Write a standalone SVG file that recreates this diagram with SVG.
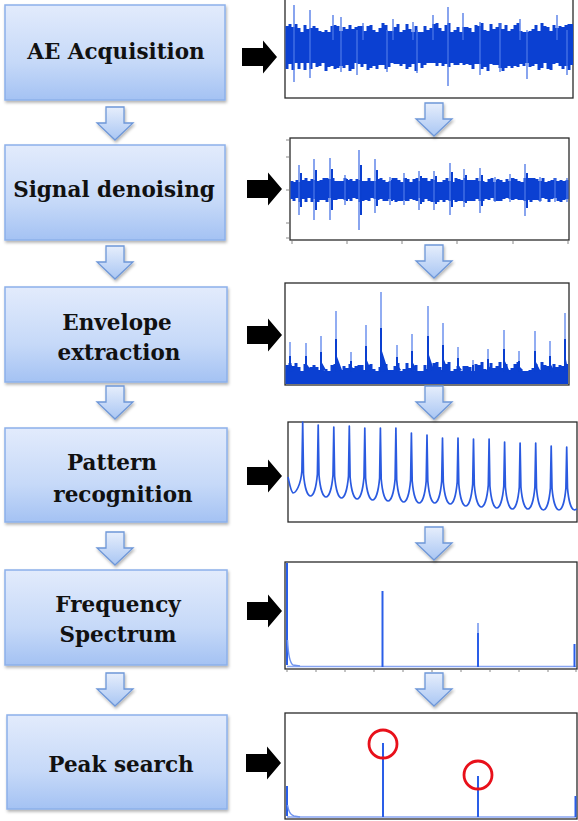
<svg xmlns="http://www.w3.org/2000/svg" width="578" height="821" viewBox="0 0 578 821">
<defs>
<linearGradient id="gBox" x1="0" y1="0" x2="0" y2="1">
<stop offset="0" stop-color="#e2ebfc"/>
<stop offset="0.6" stop-color="#c6d9f8"/>
<stop offset="1" stop-color="#a4c2f3"/>
</linearGradient>
<linearGradient id="gArr" x1="0" y1="0" x2="0" y2="1">
<stop offset="0" stop-color="#e6eefc"/>
<stop offset="1" stop-color="#a9c6f3"/>
</linearGradient>
<filter id="sh" x="-10%" y="-10%" width="120%" height="130%">
<feDropShadow dx="1" dy="2" stdDeviation="1.5" flood-color="#000" flood-opacity="0.3"/>
</filter>
<path id="dArr" d="M-9 0H9V16H18L0 33L-18 16H-9Z"/>
<path id="bArr" d="M0 -9H21V-16.5L35 0L21 16.5V9H0Z"/>
</defs>
<style>
.box{fill:url(#gBox);stroke:#8cb0ea;stroke-width:1.5;filter:url(#sh)}
.t{font-family:"DejaVu Serif","Liberation Serif",serif;font-weight:bold;font-size:21.5px;fill:#111;text-anchor:middle}
.plot{fill:#fff;stroke:#2a2a2a;stroke-width:1.3}
.core{fill:#0b40d2}
.fr{stroke:#0b40d2;stroke-width:3;fill:none}
.sp{stroke:#4a75e6;stroke-width:1.3;fill:none}
.dk{stroke:#0a3fd0;stroke-width:2;fill:none}
.lt{stroke:#6f93ee;stroke-width:1.5;fill:none}
.pk{stroke:#2a5ee8;stroke-width:2;fill:none}
.base{stroke:#88a5f2;stroke-width:1.6;fill:none}
.tick{stroke:#888;stroke-width:1;fill:none}
.da{fill:url(#gArr);stroke:#6e97d8;stroke-width:1.3;filter:url(#sh)}
.ba{fill:#000}
.ring{fill:none;stroke:#e8101a;stroke-width:2.8}
</style>
<rect width="578" height="821" fill="#fff"/>

<g id="node-ae-acquisition">
<rect class="box" x="5" y="5" width="220" height="95"/>
<text class="t" x="116" y="59">AE Acquisition</text>
</g>
<g id="node-signal-denoising">
<rect class="box" x="5" y="145" width="220" height="95"/>
<text class="t" x="114" y="197">Signal denoising</text>
</g>
<g id="node-envelope-extraction">
<rect class="box" x="5" y="287" width="222" height="95"/>
<text class="t" x="117" y="330">Envelope</text>
<text class="t" x="119" y="360">extraction</text>
</g>
<g id="node-pattern-recognition">
<rect class="box" x="5" y="428" width="222" height="94"/>
<text class="t" x="112" y="470">Pattern</text>
<text class="t" x="123" y="502">recognition</text>
</g>
<g id="node-frequency-spectrum">
<rect class="box" x="5" y="570" width="222" height="95"/>
<text class="t" x="118" y="612">Frequency</text>
<text class="t" x="118" y="642">Spectrum</text>
</g>
<g id="node-peak-search">
<rect class="box" x="7" y="715" width="220" height="94"/>
<text class="t" x="121" y="772">Peak search</text>
</g>

<g id="plot-raw">
<rect class="plot" x="285" y="-2" width="288" height="100"/>
<rect class="core" x="286" y="33" width="286" height="30"/>
<path class="fr" d="M287 26V69M290 24V64M293 27V70M296 24V63M299 28V69M302 32V63M305 25V70M308 29V63M311 28V69M314 26V63M317 28V67M320 31V66M323 32V62M326 30V71M329 32V67M332 26V66M335 25V69M338 26V68M341 31V66M344 27V68M347 29V65M350 25V71M353 29V69M356 27V63M359 26V64M362 26V67M365 31V64M368 26V70M371 25V68M374 30V66M377 32V69M380 28V65M383 23V65M386 25V69M389 31V67M392 31V62M395 27V64M398 24V64M401 32V66M404 30V64M407 24V69M410 29V67M413 32V64M416 26V71M419 32V62M422 32V68M425 26V65M428 30V62M431 28V62M434 24V62M437 23V66M440 28V62M443 31V66M446 25V64M449 23V67M452 32V62M455 30V65M458 27V65M461 32V62M464 27V65M467 27V64M470 28V65M473 32V69M476 25V64M479 26V64M482 23V69M485 30V67M488 31V71M491 24V64M494 29V65M497 27V65M500 23V68M503 29V71M506 25V68M509 31V66M512 29V68M515 25V66M518 23V67M521 31V64M524 32V66M527 32V62M530 31V67M533 29V66M536 25V64M539 31V70M542 23V68M545 26V63M548 27V69M551 31V70M554 25V64M557 28V63M560 26V66M563 27V69M566 25V66M569 24V70M571.5 24V65"/>
<path class="sp" d="M294 5V82M310 10V78M333 15V40M341 17V72M357 30V75M363 23V40M387 30V72M393 19V40M413 22V40M417 30V73M433 15V40M448 7V86M463 13V40M480 22V75M500 23V72M520 19V40M527 30V79M557 15V40M567 30V75"/>
</g>

<g id="plot-denoised">
<rect class="plot" x="290" y="138" width="279" height="102"/>
<path class="tick" d="M286 140H289M286 157H289M286 190H289M286 223H289M286 238H289M292 241V244M347 241V244M402 241V244M457 241V244M513 241V244M568 241V244"/>
<rect class="core" x="291" y="183" width="277" height="14"/>
<path class="fr" d="M292 181V199M294 182V201M297 180V198M300 182V202M303 180V199M306 178V202M309 181V198M312 179V202M315 180V199M318 181V202M321 180V200M324 178V200M327 178V202M330 179V198M333 178V200M336 181V200M339 181V199M342 181V199M345 178V200M348 180V199M351 179V201M354 181V198M357 179V199M360 180V202M363 181V201M366 181V200M369 178V201M372 181V198M375 181V199M378 179V200M381 178V199M384 180V201M387 182V201M390 181V199M393 178V200M396 178V202M399 180V201M402 182V201M405 178V200M408 179V201M411 182V199M414 179V200M417 178V201M420 181V198M423 178V202M426 178V199M429 181V201M432 179V202M435 180V202M438 182V202M441 182V200M444 180V202M447 178V200M450 181V201M453 182V200M456 178V202M459 179V201M462 180V201M465 178V202M468 180V201M471 180V201M474 180V201M477 178V199M480 181V201M483 181V201M486 182V199M489 179V200M492 178V198M495 182V201M498 179V201M501 180V201M504 182V199M507 179V198M510 181V199M513 178V200M516 179V199M519 181V200M522 182V200M525 178V201M528 178V200M531 178V202M534 178V200M537 179V200M540 181V201M543 178V198M546 182V199M549 181V202M552 180V199M555 178V198M558 181V201M561 180V202M564 181V200M567 180V199"/>
<path class="sp" stroke-width="1.6" d="M299 165V215M314 159V220M330 158V220M345 175V205M359 150V230M375 159V213M390 177V205M404 173V205M419 171V210M434 171V210M450 163V215M464 169V207M480 168V213M495 177V202M510 174V202M525 164V216M540 177V202M555 178V202M567 178V202"/>
<path class="dk" d="M301 173V207M316 170V210M332 169V210M347 179V201M361 165V215M377 170V206M392 180V201M406 178V201M421 176V204M436 176V204M452 172V207M466 175V203M482 175V206M497 180V200M512 178V200M527 173V208"/>
</g>

<g id="plot-envelope">
<rect class="plot" x="285" y="283" width="284" height="102"/>
<path class="fr" d="M287 365V384M290 363V384M293 366V384M296 363V384M299 367V384M302 371V384M305 364V384M308 368V384M311 367V384M314 365V384M317 367V384M320 370V384M323 371V384M326 369V384M329 371V384M332 365V384M335 364V384M338 365V384M341 370V384M344 366V384M347 368V384M350 364V384M353 368V384M356 366V384M359 365V384M362 365V384M365 370V384M368 365V384M371 364V384M374 369V384M377 371V384M380 367V384M383 362V384M386 364V384M389 370V384M392 370V384M395 366V384M398 363V384M401 371V384M404 369V384M407 363V384M410 368V384M413 371V384M416 365V384M419 371V384M422 371V384M425 365V384M428 369V384M431 367V384M434 363V384M437 362V384M440 367V384M443 370V384M446 364V384M449 362V384M452 371V384M455 369V384M458 366V384M461 371V384M464 366V384M467 366V384M470 367V384M473 371V384M476 364V384M479 365V384M482 362V384M485 369V384M488 370V384M491 363V384M494 368V384M497 366V384M500 362V384M503 368V384M506 364V384M509 370V384M512 368V384M515 364V384M518 362V384M521 370V384M524 371V384M527 371V384M530 370V384M533 368V384M536 364V384M539 370V384M542 362V384M545 365V384M548 366V384M551 370V384M554 364V384M557 367V384M560 365V384M563 366V384M566.5 364V384"/>
<rect class="core" x="286" y="372" width="282" height="12"/>
<path class="lt" d="M290 342V372M306 343V372M321 336V372M336 311V372M351 352V372M366 325V372M381 292V372M397 345V372M412 334V372M428 306V372M443 323V372M458 347V372M473 360V372M488 349V372M504 330V372M519 351V372M535 331V372M550 341V372M565 313V372"/>
<path class="dk" d="M290 356V372M306 356V372M321 352V372M336 339V372M351 361V372M366 346V372M381 328V372M397 357V372M412 351V372M428 336V372M443 345V372M458 358V372M473 365V372M488 359V372M504 349V372M519 361V372M535 351V372M550 356V372M565 339V372"/>
<path class="core" d="M290 363L295 370L290 372ZM306 363L311 370L306 372ZM321 361L326 370L321 372ZM336 354L342 370L336 372ZM351 366L355 370L351 372ZM366 358L371 370L366 372ZM381 348L388 370L381 372ZM397 364L401 370L397 372ZM412 361L417 370L412 372ZM428 352L434 370L428 372ZM443 357L448 370L443 372ZM458 365L462 370L458 372ZM488 365L492 370L488 372ZM504 359L509 370L504 372ZM519 366L523 370L519 372ZM535 360L540 370L535 372ZM550 363L554 370L550 372ZM565 354L568 370L565 372Z"/>
</g>

<g id="plot-pattern">
<rect class="plot" x="288" y="422" width="289" height="100"/>
<path d="M288 477C290 486 291 492 293 493C296 493 300.7 485 301.9 471L302.7 422L303.5 474C304.7 488 307.5 496 310.5 496C313.5 496 316.2 488 317.4 474L318.2 425L319 475C320.2 489 323 497 326 497C329 497 331.8 489 333 475L333.8 427L334.6 476C335.8 490 338.5 498 341.5 498C344.5 498 347.3 490 348.5 476L349.3 426L350.1 477C351.3 491 354.1 499 357.1 499C360.1 499 362.8 491 364 477L364.8 428L365.6 478C366.8 492 369.6 500 372.6 500C375.6 500 378.4 492 379.6 478L380.4 428L381.2 479C382.4 493 385.1 501 388.1 501C391.1 501 393.9 493 395.1 479L395.9 428L396.7 480C397.9 494 400.7 502 403.7 502C406.7 502 409.4 494 410.6 480L411.4 433L412.2 481C413.4 495 416.2 503 419.2 503C422.2 503 425 495 426.2 481L427 435L427.8 481C429 495 431.7 503 434.7 503C437.7 503 440.5 495 441.7 481L442.5 438L443.3 482C444.5 496 447.3 504 450.3 504C453.3 504 456 496 457.2 482L458 438L458.8 484C460 498 462.8 506 465.8 506C468.8 506 471.5 498 472.7 484L473.5 439L474.3 485C475.5 499 478.3 507 481.3 507C484.3 507 487.1 499 488.3 485L489.1 439L489.9 486C491.1 500 493.8 508 496.8 508C499.8 508 502.6 500 503.8 486L504.6 442L505.4 487C506.6 501 509.4 509 512.4 509C515.4 509 518.1 501 519.3 487L520.1 443L520.9 487C522.1 501 524.9 509 527.9 509C530.9 509 533.7 501 534.9 487L535.7 443L536.5 488C537.7 502 540.4 510 543.4 510C546.4 510 549.2 502 550.4 488L551.2 446L552 488C553.2 502 556 510 559 510C562 510 564.7 502 565.9 488L566.7 447L567.5 488C568.7 502 571.5 510 574.5 510L577 509" fill="none" stroke="#2a5ae0" stroke-width="1.7" stroke-linejoin="round"/>
</g>

<g id="plot-spectrum">
<rect class="plot" x="285" y="562" width="292" height="107"/>
<path class="tick" d="M287 670V672M316 670V672M345 670V672M374 670V672M403 670V672M432 670V672M461 670V672M490 670V672M519 670V672M548 670V672M576 670V672"/>
<path class="base" d="M287 666.5H576"/>
<path class="pk" stroke-width="1.6" d="M287 563V665"/>
<path class="lt" d="M287.5 640Q288.5 662 293 665L300 666"/>
<path class="pk" d="M382.5 591V667"/>
<path class="lt" stroke-width="2" d="M478 623V633"/>
<path class="pk" stroke-width="1.7" d="M478 633V667"/>
<path class="pk" stroke-width="1.5" d="M574.5 644V667"/>
</g>

<g id="plot-peaks">
<rect class="plot" x="285" y="713" width="292" height="106"/>
<path class="base" d="M287 817H576"/>
<path class="pk" stroke-width="1.6" d="M287 786V816"/>
<path class="lt" d="M287.5 805Q289 815 294 816L300 817"/>
<path class="pk" d="M383 743V817M478 776V817"/>
<path class="pk" stroke-width="1.5" d="M575.5 796V817"/>
<circle class="ring" cx="383" cy="744" r="14"/>
<circle class="ring" cx="478" cy="775" r="14"/>
</g>

<g id="connectors">
<use href="#dArr" class="da" x="115" y="107"/>
<use href="#dArr" class="da" x="115" y="246"/>
<use href="#dArr" class="da" x="115" y="386"/>
<use href="#dArr" class="da" x="115" y="532"/>
<use href="#dArr" class="da" x="115" y="673"/>
<use href="#dArr" class="da" x="434" y="103"/>
<use href="#dArr" class="da" x="434" y="245"/>
<use href="#dArr" class="da" x="434" y="386"/>
<use href="#dArr" class="da" x="434" y="527"/>
<use href="#dArr" class="da" x="434" y="673"/>
<use href="#bArr" class="ba" x="242" y="57"/>
<use href="#bArr" class="ba" x="247" y="189"/>
<use href="#bArr" class="ba" x="247" y="335"/>
<use href="#bArr" class="ba" x="247" y="476"/>
<use href="#bArr" class="ba" x="247" y="611"/>
<use href="#bArr" class="ba" x="246" y="763"/>
</g>
</svg>
